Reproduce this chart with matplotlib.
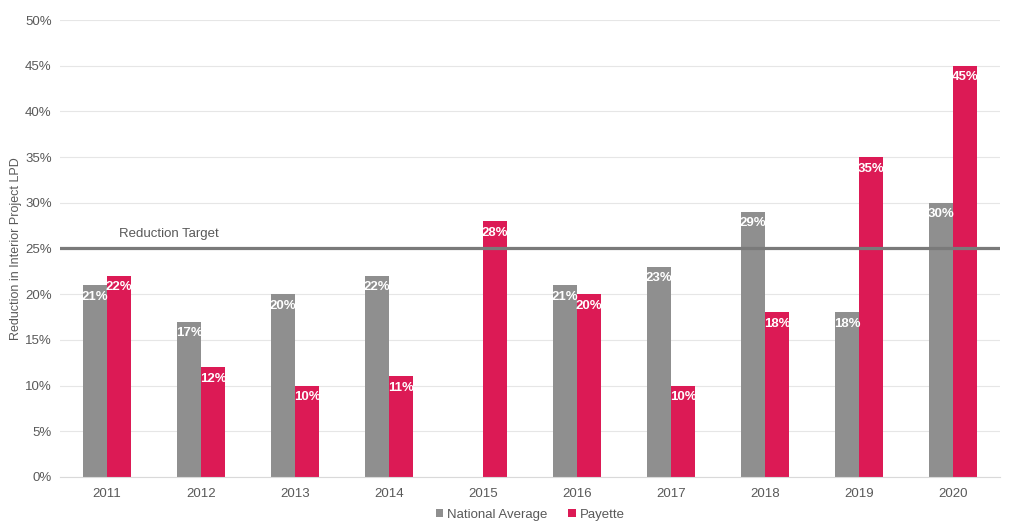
import matplotlib.pyplot as plt
import numpy as np

plt.rcParams['font.family'] = ['Liberation Sans', 'DejaVu Sans']

years = ['2011', '2012', '2013', '2014', '2015', '2016', '2017', '2018', '2019', '2020']
national = [21, 17, 20, 22, None, 21, 23, 29, 18, 30]
payette = [22, 12, 10, 11, 28, 20, 10, 18, 35, 45]
target = 25

grey = '#8f8f8f'
pink = '#dc1a55'
text_col = '#595959'

fig = plt.figure(figsize=(10.24, 5.32), dpi=100)
ax = fig.add_axes([0.0586, 0.1034, 0.918, 0.859])

x = np.arange(len(years))
w = 0.255
nat_vals = [v if v is not None else 0 for v in national]
ax.bar(x - w / 2, nat_vals, w, color=grey, label='National Average', zorder=2)
ax.bar(x + w / 2, payette, w, color=pink, label='Payette', zorder=2)

for xi, v in zip(x, national):
    if v is not None:
        ax.text(xi - w / 2, v - 0.6, f'{v}%', ha='center', va='top', color='white',
                fontsize=9.5, fontweight='bold', zorder=4)
for xi, v in zip(x, payette):
    ax.text(xi + w / 2, v - 0.6, f'{v}%', ha='center', va='top', color='white',
            fontsize=9.5, fontweight='bold', zorder=4)

ax.axhline(target, color='#7a7a7a', lw=2.3, zorder=3)
ax.text(0.66, 26.6, 'Reduction Target', ha='center', va='center', color=text_col, fontsize=9.5)

ax.set_xlim(-0.5, len(years) - 0.5)
ax.set_ylim(0, 50)
ax.set_yticks(np.arange(0, 51, 5))
ax.set_yticklabels([f'{t}%' for t in range(0, 51, 5)])
ax.set_xticks(x)
ax.set_xticklabels(years)
ax.tick_params(axis='both', length=0, colors=text_col, labelsize=9.5)
ax.tick_params(axis='x', pad=8)
ax.tick_params(axis='y', pad=6)
ax.grid(axis='y', color='#e6e6e6', lw=0.8, zorder=0)
for s in ['top', 'right', 'left']:
    ax.spines[s].set_visible(False)
ax.spines['bottom'].set_color('#d9d9d9')
ax.set_ylabel('Reduction in Interior Project LPD', color=text_col, fontsize=9, labelpad=2)

ax.legend(loc='center', bbox_to_anchor=(0.5, -0.083), ncol=2, frameon=False,
          fontsize=9.5, labelcolor=text_col, handlelength=0.6, handleheight=0.6,
          handletextpad=0.3, columnspacing=1.5)

plt.savefig('out.png', dpi=100)
